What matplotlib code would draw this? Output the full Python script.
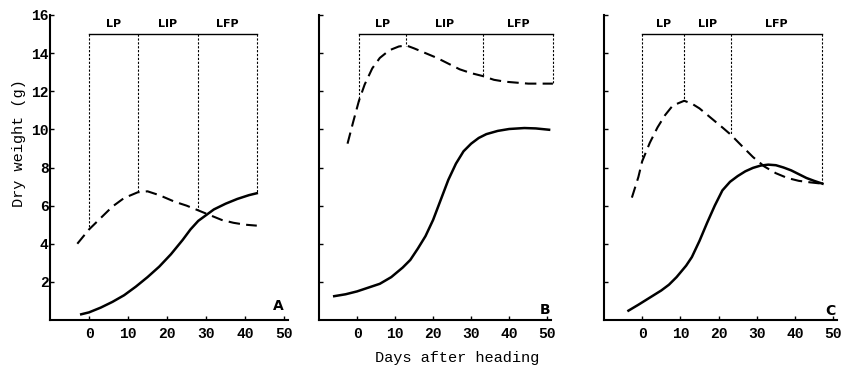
import numpy as np
import matplotlib
matplotlib.use("Agg")
import matplotlib.pyplot as plt

# Panel A
a_dash_x = [-3, 0, 3, 6, 9, 12.5, 15, 18, 22, 25, 28, 31, 34, 37, 40, 43]
a_dash_y = [4.0, 4.75, 5.35, 5.95, 6.4, 6.7, 6.75, 6.55, 6.2, 6.0, 5.75, 5.5, 5.25, 5.1, 5.0, 4.95]
a_solid_x = [-2, 0, 3, 6, 9, 12, 15, 18, 21, 24, 26, 28, 30, 32, 35, 38, 41, 43]
a_solid_y = [0.3, 0.4, 0.65, 0.95, 1.3, 1.75, 2.25, 2.8, 3.45, 4.2, 4.75, 5.2, 5.5, 5.8, 6.1, 6.35, 6.55, 6.65]
a_bounds = [0, 12.5, 28, 43]
a_drop = [4.8, 6.7, 5.75, 6.65]

# Panel B
b_dash_x = [-2.5, -1, 0.5, 2, 4, 6, 8.5, 11, 13, 15, 18, 21, 24, 27, 30, 33, 36, 39, 42, 45, 48, 51.5]
b_dash_y = [9.25, 10.4, 11.5, 12.35, 13.2, 13.75, 14.15, 14.35, 14.4, 14.25, 14.0, 13.75, 13.45,
            13.15, 12.95, 12.8, 12.6, 12.5, 12.45, 12.4, 12.4, 12.4]
b_solid_x = [-6, -3, 0, 3, 6, 9, 12, 14, 16, 18, 20, 22, 24, 26, 28, 30, 32, 34, 37, 40, 44, 47, 50.5]
b_solid_y = [1.25, 1.35, 1.5, 1.7, 1.9, 2.25, 2.75, 3.15, 3.75, 4.4, 5.25, 6.3, 7.35, 8.2, 8.85,
             9.25, 9.55, 9.75, 9.92, 10.02, 10.07, 10.05, 9.98]
b_bounds = [0.5, 13, 33.2, 51.5]
b_drop = [11.5, 14.4, 12.8, 12.4]

# Panel C
c_dash_x = [-2.7, -1, 0, 2, 4, 6, 8, 11, 13, 15, 18, 21, 23.2, 26, 29, 32, 35, 38, 41, 44, 47.2]
c_dash_y = [6.42, 7.5, 8.33, 9.3, 10.1, 10.75, 11.25, 11.5, 11.35, 11.1, 10.6, 10.1, 9.72, 9.15,
            8.55, 8.05, 7.7, 7.45, 7.3, 7.22, 7.15]
c_solid_x = [-3.6, -1, 1, 3, 5, 7, 9, 11.5, 13, 15, 17, 19, 21, 23, 25, 27, 29, 31, 33, 35, 37,
             39, 41, 43, 45, 47.2]
c_solid_y = [0.49, 0.8, 1.05, 1.3, 1.55, 1.85, 2.25, 2.85, 3.3, 4.15, 5.1, 6.0, 6.8, 7.25, 7.55,
             7.8, 7.98, 8.1, 8.15, 8.12, 8.0, 7.85, 7.65, 7.45, 7.3, 7.15]
c_bounds = [0, 11, 23.2, 47.2]
c_drop = [8.33, 11.5, 9.72, 7.15]

phase_names = ["LP", "LIP", "LFP"]
phase_level = 15
panel_names = ["A", "B", "C"]
panel_label_pos = [(48.4, 0.75), (49.5, 0.55), (49.2, 0.45)]
x_ticks = [0, 10, 20, 30, 40, 50]
y_ticks = [2, 4, 6, 8, 10, 12, 14, 16]

W, H = 841, 377
fig = plt.figure(figsize=(W / 100, H / 100), dpi=100)

# axes boxes in pixels: left, width
boxes = [(50, 238), (319, 232), (604, 233)]
bottom_px, top_px = 320, 15

panels = [
    (a_dash_x, a_dash_y, a_solid_x, a_solid_y, a_bounds, a_drop),
    (b_dash_x, b_dash_y, b_solid_x, b_solid_y, b_bounds, b_drop),
    (c_dash_x, c_dash_y, c_solid_x, c_solid_y, c_bounds, c_drop),
]

mono = "Liberation Mono"

for i, (dx, dy, sx, sy, bounds, drop) in enumerate(panels):
    left, width = boxes[i]
    ax = fig.add_axes([left / W, (H - bottom_px) / H, width / W, (bottom_px - top_px) / H])
    ax.set_xlim(-10, 51)
    ax.set_ylim(0, 16)
    for s in ["top", "right"]:
        ax.spines[s].set_visible(False)
    for s in ["left", "bottom"]:
        ax.spines[s].set_linewidth(1.5)
    ax.set_xticks(x_ticks)
    ax.set_yticks(y_ticks)
    ax.tick_params(axis="x", direction="in", length=3, width=1, pad=5)
    ax.tick_params(axis="y", direction="in", length=3, width=1, pad=1)
    for lab in ax.get_xticklabels() + ax.get_yticklabels():
        lab.set_fontfamily(mono)
        lab.set_fontweight("bold")
        lab.set_fontsize(10.5)
    if i > 0:
        ax.set_yticklabels([])

    ax.plot(dx, dy, color="black", lw=1.5, dashes=(5.5, 3), clip_on=False)
    ax.plot(sx, sy, color="black", lw=1.8, clip_on=False)

    # phase bar
    ax.plot([bounds[0], bounds[-1]], [phase_level, phase_level], color="black", lw=1.0, clip_on=False)
    for b, d in zip(bounds, drop):
        ax.plot([b, b], [phase_level, d], color="black", lw=0.8, dashes=(2, 1.5), clip_on=False)
    for k, name in enumerate(phase_names):
        xm = (bounds[k] + bounds[k + 1]) / 2
        ax.text(xm, phase_level + 0.25, name, ha="center", va="bottom",
                fontsize=8, fontweight="bold", family="DejaVu Sans")

    px, py = panel_label_pos[i]
    ax.text(px, py, panel_names[i], ha="center", va="center", fontsize=10, fontweight="bold",
            family="DejaVu Sans")

fig.text(19 / W, 1 - 143 / H, "Dry weight (g)", rotation=90, ha="center", va="center",
         family=mono, fontsize=11)
fig.text(457 / W, 1 - 358 / H, "Days after heading", ha="center", va="center",
         family=mono, fontsize=11)

fig.savefig("out.png", dpi=100)
